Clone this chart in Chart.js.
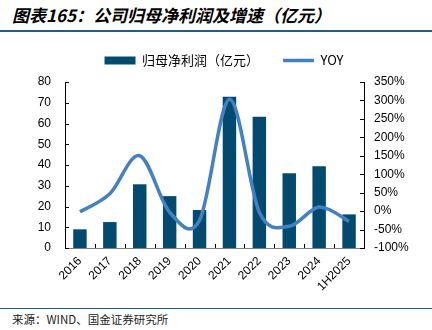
<!DOCTYPE html>
<html>
<head>
<meta charset="utf-8">
<script src="https://cdn.jsdelivr.net/npm/chart.js@4"></script>
<style>
  body { margin: 0; width: 432px; height: 330px; background: #fff; position: relative; overflow: hidden; }
  #title { position: absolute; left: 12px; top: 2px; font: italic bold 17px "Noto Sans CJK SC", sans-serif; color: #000; white-space: nowrap; }
  #topRule { position: absolute; left: 0; top: 30px; width: 432px; height: 2px; background: #1f5f8b; }
  #bottomRule { position: absolute; left: 0; top: 308px; width: 432px; height: 1px; background: #1f5f8b; }
  #source { position: absolute; left: 12px; top: 311px; font: 11.5px "Noto Sans CJK SC", sans-serif; color: #222; white-space: nowrap; }
  #wrap { position: absolute; left: 0; top: 30px; width: 432px; height: 270px; }
</style>
</head>
<body>
<div id="title">图表165：公司归母净利润及增速（亿元）</div>
<div id="topRule"></div>
<div id="wrap"><canvas id="myChart"></canvas></div>
<div id="bottomRule"></div>
<div id="source">来源：WIND、国金证券研究所</div>
<script>
// categories and values
let categories = ["2016", "2017", "2018", "2019", "2020", "2021", "2022", "2023", "2024", "1H2025"];
let profit = [9.0, 12.5, 30.7, 25.0, 18.3, 72.9, 63.3, 36.0, 39.4, 16.2];
let yoy = [-0.02, 0.47, 1.50, -0.03, -0.25, 3.03, -0.03, -0.41, 0.11, -0.28];
let leftTicks = [0, 10, 20, 30, 40, 50, 60, 70, 80];
let rightTicks = [-1, -0.5, 0, 0.5, 1, 1.5, 2, 2.5, 3, 3.5];

let barColor = "#044a6f",
  lineColor = "#4381c3",
  tickFont = { family: "'Liberation Sans', Arial, sans-serif", size: 12 };

// small inner tick marks like the original
const innerTicks = {
  id: "innerTicks",
  afterDraw(chart) {
    let ctx = chart.ctx;
    let a = chart.chartArea;
    ctx.save();
    ctx.strokeStyle = "#000";
    ctx.lineWidth = 1;
    let yl = chart.scales.y;
    yl.ticks.forEach((t, i) => {
      let y = Math.round(yl.getPixelForTick(i)) + 0.5;
      ctx.beginPath(); ctx.moveTo(a.left, y); ctx.lineTo(a.left + 4, y); ctx.stroke();
    });
    let yr = chart.scales.y1;
    yr.ticks.forEach((t, i) => {
      let y = Math.round(yr.getPixelForTick(i)) + 0.5;
      ctx.beginPath(); ctx.moveTo(a.right, y); ctx.lineTo(a.right - 4, y); ctx.stroke();
    });
    let xs = chart.scales.x;
    for (let i = 1; i < categories.length; i++) {
      let x = Math.round((xs.getPixelForTick(i - 1) + xs.getPixelForTick(i)) / 2) + 0.5;
      ctx.beginPath(); ctx.moveTo(x, a.bottom); ctx.lineTo(x, a.bottom - 4); ctx.stroke();
    }
    ctx.restore();
  }
};

// excel style smoothing (catmull-rom, 1/6 of neighbour span)
const excelSmooth = {
  id: "excelSmooth",
  beforeDatasetsDraw(chart) {
    let meta = chart.getDatasetMeta(1);
    let pts = meta.data;
    meta.dataset.updateControlPoints(chart.chartArea, "x");
    pts.forEach((p, i) => {
      let prev = pts[i - 1] || p;
      let next = pts[i + 1] || p;
      let dx = (next.x - prev.x) / 6, dy = (next.y - prev.y) / 6;
      p.cp1x = p.x - dx; p.cp1y = p.y - dy;
      p.cp2x = p.x + dx; p.cp2y = p.y + dy;
    });
  }
};

// a bit more room under the legend
const legendGap = {
  id: "legendGap",
  beforeInit(chart) {
    const fit = chart.legend.fit;
    chart.legend.fit = function () {
      fit.call(this);
      this.height += 5;
    };
  }
};

let ctx = document.getElementById("myChart").getContext("2d");
let myChart = new Chart(ctx, {
  data: {
    labels: categories,
    datasets: [
      {
        type: "bar",
        label: "归母净利润（亿元）",
        data: profit,
        backgroundColor: barColor,
        borderWidth: 0,
        yAxisID: "y",
        barPercentage: 0.45,
        categoryPercentage: 1,
        order: 2,
      },
      {
        type: "line",
        label: "YOY",
        data: yoy,
        borderColor: lineColor,
        backgroundColor: lineColor,
        borderWidth: 3.5,
        pointRadius: 0,
        tension: 0.4,
        yAxisID: "y1",
        order: 1,
      },
    ],
  },
  options: {
    responsive: true,
    maintainAspectRatio: false,
    animation: false,
    layout: { padding: { top: 0, left: 16, right: 0, bottom: 0 } },
    plugins: {
      tooltip: { enabled: false },
      legend: {
        position: "top",
        labels: {
          usePointStyle: true,
          pointStyleWidth: 31,
          boxWidth: 31,
          boxHeight: 8,
          padding: 24,
          color: "#222",
          font: { family: "'Noto Sans CJK SC', 'Liberation Sans', sans-serif", size: 13 },
          generateLabels(chart) {
            return chart.data.datasets.map((ds, i) => ({
              text: ds.label,
              fillStyle: ds.type == "bar" ? barColor : lineColor,
              strokeStyle: ds.type == "bar" ? barColor : lineColor,
              lineWidth: ds.type == "bar" ? 0 : 3.5,
              pointStyle: ds.type == "bar" ? "rect" : "line",
              datasetIndex: i,
              hidden: false,
            }));
          },
        },
      },
    },
    scales: {
      x: {
        grid: { display: false, drawTicks: false },
        border: { color: "#808080", width: 1 },
        ticks: { minRotation: 45, maxRotation: 45, padding: 6, color: "#000", font: tickFont },
        afterFit(scale) { scale.height = 52; },
      },
      y: {
        position: "left",
        min: 0,
        max: 80,
        afterBuildTicks(scale) { scale.ticks = leftTicks.map(v => ({ value: v })); },
        grid: { display: false, drawTicks: false },
        border: { color: "#000", width: 1 },
        ticks: { padding: 14, color: "#000", font: tickFont },
        afterFit(scale) { scale.width = 49; },
      },
      y1: {
        position: "right",
        min: -1,
        max: 3.5,
        afterBuildTicks(scale) { scale.ticks = rightTicks.map(v => ({ value: v })); },
        grid: { display: false, drawTicks: false },
        border: { color: "#000", width: 1 },
        ticks: {
          padding: 10,
          color: "#000",
          font: tickFont,
          callback: (v) => Math.round(v * 100) + "%",
        },
        afterFit(scale) { scale.width = 68; },
      },
    },
  },
  plugins: [innerTicks, excelSmooth, legendGap],
});
</script>
</body>
</html>
